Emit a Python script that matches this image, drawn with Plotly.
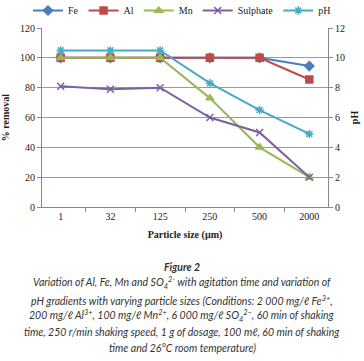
import plotly.graph_objects as go

categories = ["1", "32", "125", "250", "500", "2000"]
fe = [100, 100, 100, 100, 100, 94.5]
al = [100, 100, 100, 100, 100, 85.5]
mn = [100, 100, 100, 73, 40, 20]
sulphate = [81, 79, 80, 60, 50, 20]
ph = [10.5, 10.5, 10.5, 8.3, 6.5, 4.9]

left_ticks = [0, 20, 40, 60, 80, 100, 120]
right_ticks = [0, 2, 4, 6, 8, 10, 12]

fig = go.Figure()
series = [
    ("Fe", fe, "#4A7EBB", "diamond", 7, "y"),
    ("Al", al, "#BE4B48", "square", 7, "y"),
    ("Mn", mn, "#98B954", "triangle-up", 7, "y"),
    ("Sulphate", sulphate, "#7D60A0", "x-thin-open", 7, "y"),
    ("pH", ph, "#46AAC5", "asterisk-open", 7, "y2"),
]
for name, vals, col, sym, sz, ax in series:
    fig.add_trace(go.Scatter(
        x=categories, y=vals, name=name, mode="lines+markers", yaxis=ax,
        line=dict(color=col, width=2),
        marker=dict(symbol=sym, size=sz, color=col, line=dict(color=col, width=1.5)),
    ))

def py(px):
    return (207 - px) / 179.0

def px_x(px):
    return (px - 42) / 286.0

serif = "Liberation Serif, Times New Roman, serif"
fig.update_layout(
    template="none",
    width=364, height=361,
    margin=dict(l=42, r=36, t=28, b=154, autoexpand=False),
    paper_bgcolor="white", plot_bgcolor="white",
    font=dict(family=serif, size=10, color="#222"),
    showlegend=True,
    legend=dict(orientation="h", x=px_x(28), xanchor="left",
                y=py(-4), yanchor="top",
                font=dict(family=serif, size=10), itemwidth=30,
                tracegroupgap=0, bgcolor="rgba(0,0,0,0)"),
    xaxis=dict(type="category", tickson="boundaries", ticks="outside", ticklen=4,
               tickcolor="#888", showline=True, linecolor="#888", showgrid=False,
               automargin=False, tickfont=dict(family=serif, size=10),
               title=dict(text="<b>Particle size (µm)</b>", standoff=9,
                          font=dict(family=serif, size=10))),
    yaxis=dict(range=[0, 120], tickvals=left_ticks, ticks="outside", ticklen=4,
               tickcolor="#888", showline=True, linecolor="#888",
               showgrid=True, gridcolor="#9a9a9a", gridwidth=1, zeroline=False,
               automargin=False, tickfont=dict(family=serif, size=10),
               title=dict(text="<b>% removal</b>", standoff=8,
                          font=dict(family=serif, size=10))),
    yaxis2=dict(range=[0, 12], tickvals=right_ticks, overlaying="y", side="right",
                ticks="outside", ticklen=4, tickcolor="#888", showline=True,
                linecolor="#888", showgrid=False, zeroline=False, automargin=False,
                tickfont=dict(family=serif, size=10),
                title=dict(text="<b>pH</b>", standoff=6,
                           font=dict(family=serif, size=10))),
)

cap_font = "Lato, Roboto, sans-serif"
caption = [
    ("<b><i>Figure 2</i></b>", 267),
    ("<i>Variation of Al, Fe, Mn and SO<sub>4</sub><sup>2-</sup> with agitation time and variation of</i>", 283),
    ("<i>pH gradients with varying particle sizes (Conditions: 2 000 mg/ℓ Fe<sup>3+</sup>,</i>", 300),
    ("<i>200 mg/ℓ Al<sup>3+</sup>, 100 mg/ℓ Mn<sup>2+</sup>, 6 000 mg/ℓ SO<sub>4</sub><sup>2−</sup>, 60 min of shaking</i>", 316),
    ("<i>time, 250 r/min shaking speed, 1 g of dosage, 100 mℓ, 60 min of shaking</i>", 332),
    ("<i>time and 26°C room temperature)</i>", 348),
]
for txt, ypx in caption:
    fig.add_annotation(text=txt, xref="paper", yref="paper", x=px_x(182),
                       y=py(ypx), xanchor="center", yanchor="middle", showarrow=False,
                       font=dict(family=cap_font, size=10.5, color="#333"))

fig.write_html("out.html", config={"displayModeBar": False},
               post_script="document.body.style.margin='0';")
